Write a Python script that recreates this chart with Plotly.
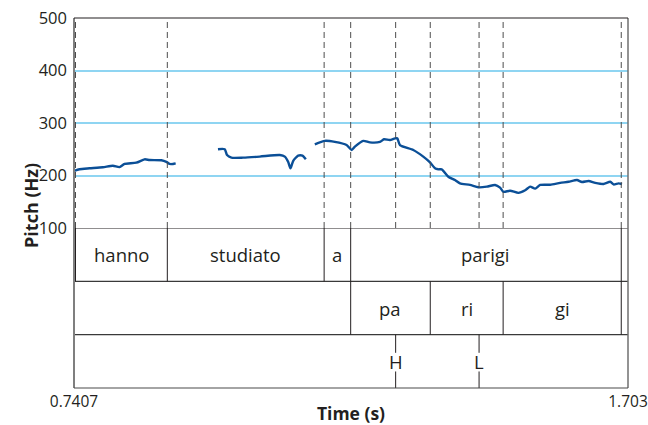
import plotly.graph_objects as go

# ---- pitch contour (time in s, pitch in Hz), three voiced stretches ----
seg1_t = [0.7407, 0.7503, 0.7677, 0.7908, 0.8082, 0.8198, 0.8285, 0.8489, 0.8633,
          0.8720, 0.8924, 0.9011, 0.9068, 0.9126, 0.9173]
seg1_f = [208.6, 212, 213.7, 215.6, 218.7, 216, 222, 224.4, 230.8,
          229.5, 229, 226, 222, 222, 223]

seg2_t = [0.9908, 1.0025, 1.0065, 1.0141, 1.0343, 1.0634, 1.0982, 1.1069, 1.1126,
          1.1167, 1.1213, 1.1300, 1.1376, 1.1434]
seg2_f = [250, 250, 239, 234, 234, 236, 239, 236, 226,
          213.6, 227.6, 237.8, 237.8, 231]

seg3_t = [1.1590, 1.1764, 1.1938, 1.2142, 1.2229, 1.2286, 1.2431, 1.2547, 1.2721,
          1.2791, 1.2895, 1.2982, 1.3022, 1.3069, 1.3300, 1.3474, 1.3591, 1.3678,
          1.3735, 1.3794, 1.3909, 1.4024, 1.4111, 1.4285, 1.4431, 1.4577, 1.4721,
          1.4808, 1.4866, 1.4983, 1.5127, 1.5244, 1.5330, 1.5417, 1.5504, 1.5678,
          1.5852, 1.5997, 1.6143, 1.6230, 1.6345, 1.6461, 1.6605, 1.6722, 1.6780,
          1.6867, 1.6926]
seg3_f = [259.4, 266, 264, 258, 248.6, 255, 266, 263, 264,
          269, 267.6, 270.8, 270.8, 258, 248.6, 236, 225, 213.7,
          211.8, 211.8, 197.7, 191.4, 185, 182, 177.5, 178.7, 182,
          176.8, 169, 171, 167, 172, 178.7, 175, 182, 182.5,
          186, 188, 191.4, 187.6, 189.5, 186, 183.8, 188, 183,
          185, 183.8]

# ---- annotation tiers ----
word_labels = ["hanno", "studiato", "a", "parigi"]
word_bounds = [0.7433, 0.9028, 1.1752, 1.2213, 1.6913]
syll_labels = ["pa", "ri", "gi"]
syll_bounds = [1.2213, 1.3595, 1.4861, 1.6913]
tone_labels = ["H", "L"]
tone_times = [1.2994, 1.4443]

# ---- axes ----
x_range = [0.7407, 1.703]
x_tick_vals = [0.7407, 1.703]
x_tick_labels = ["0.7407", "1.703"]
y_range = [100, 500]
y_tick_vals = [100, 200, 300, 400, 500]

FONT = "Open Sans"
TXT = "#231f20"
BLUE = "#0b4f97"
GRID = "#8fd5f2"
TIER_SIZE = 18.5

x_all = seg1_t + [None] + seg2_t + [None] + seg3_t
f_all = seg1_f + [None] + seg2_f + [None] + seg3_f

fig = go.Figure()
fig.add_trace(go.Scatter(x=x_all, y=f_all, mode="lines", connectgaps=False,
                         line=dict(color=BLUE, width=2.4, shape="spline", smoothing=0.6),
                         xaxis="x", yaxis="y", hoverinfo="skip", showlegend=False))
# invisible trace to establish the tier axis
fig.add_trace(go.Scatter(x=[x_range[0]], y=[0], mode="markers", marker=dict(opacity=0),
                         xaxis="x", yaxis="y2", showlegend=False, hoverinfo="skip"))

shapes = []
annotations = []

# dashed boundaries in pitch panel
all_bounds = sorted(set(word_bounds + syll_bounds + tone_times))
for b in all_bounds:
    shapes.append(dict(type="line", xref="x", yref="y", x0=b, x1=b, y0=y_range[0], y1=y_range[1],
                       line=dict(color="#4d4d4d", width=1, dash="6px,4px"), layer="above"))

# tier horizontals
for yv, col in [(3, "#231f20"), (2, "#3a3a3a"), (1, "#3a3a3a")]:
    shapes.append(dict(type="line", xref="paper", yref="y2", x0=0, x1=1, y0=yv, y1=yv,
                       line=dict(color=col, width=1.2), layer="above"))

# word tier
for b in word_bounds:
    shapes.append(dict(type="line", xref="x", yref="y2", x0=b, x1=b, y0=2, y1=3,
                       line=dict(color="#231f20", width=1), layer="above"))
for i, lab in enumerate(word_labels):
    annotations.append(dict(x=(word_bounds[i] + word_bounds[i + 1]) / 2, y=2.5, xref="x", yref="y2",
                            text=lab, showarrow=False, font=dict(family=FONT, size=TIER_SIZE, color=TXT)))
# syllable tier
for b in syll_bounds:
    shapes.append(dict(type="line", xref="x", yref="y2", x0=b, x1=b, y0=1, y1=2,
                       line=dict(color="#231f20", width=1), layer="above"))
for i, lab in enumerate(syll_labels):
    annotations.append(dict(x=(syll_bounds[i] + syll_bounds[i + 1]) / 2, y=1.5, xref="x", yref="y2",
                            text=lab, showarrow=False, font=dict(family=FONT, size=TIER_SIZE, color=TXT)))
# tone tier
for t, lab in zip(tone_times, tone_labels):
    shapes.append(dict(type="line", xref="x", yref="y2", x0=t, x1=t, y0=0.66, y1=1,
                       line=dict(color="#231f20", width=1), layer="above"))
    shapes.append(dict(type="line", xref="x", yref="y2", x0=t, x1=t, y0=0, y1=0.31,
                       line=dict(color="#231f20", width=1), layer="above"))
    annotations.append(dict(x=t, y=0.5, xref="x", yref="y2", text=lab, showarrow=False,
                            font=dict(family=FONT, size=TIER_SIZE, color=TXT)))

# frame
shapes += [
    dict(type="line", xref="paper", yref="paper", x0=0, x1=0, y0=0, y1=1,
         line=dict(color="#7f7f7f", width=2), layer="above"),
    dict(type="line", xref="paper", yref="paper", x0=1, x1=1, y0=0, y1=1,
         line=dict(color="#6f6f6f", width=1.5), layer="above"),
    dict(type="line", xref="paper", yref="paper", x0=0, x1=1, y0=1, y1=1,
         line=dict(color="#231f20", width=1.2), layer="above"),
    dict(type="line", xref="paper", yref="paper", x0=0, x1=1, y0=0, y1=0,
         line=dict(color="#4a4a4a", width=1.2), layer="above"),
]

annotations.append(dict(x=-0.103, y=0.4946, xref="paper", yref="paper", text="<b>Pitch (Hz)</b>",
                        textangle=-90, showarrow=False, font=dict(family=FONT, size=18, color=TXT)))

split = 1 - 210 / 370
fig.update_layout(
    width=648, height=425,
    margin=dict(l=74, r=20, t=18, b=37),
    plot_bgcolor="white", paper_bgcolor="white",
    xaxis=dict(range=x_range, anchor="y2", tickvals=x_tick_vals, ticktext=x_tick_labels,
               showgrid=False, zeroline=False, showline=False, ticks="", automargin=False,
               ticklabelstandoff=2,
               tickfont=dict(family=FONT, size=15.5, color=TXT),
               title=dict(text="<b>Time (s)</b>", font=dict(family=FONT, size=17.5, color=TXT), standoff=0)),
    yaxis=dict(domain=[split, 1], range=y_range, tickvals=y_tick_vals, showgrid=True,
               gridcolor=GRID, gridwidth=1.6, zeroline=False, showline=False, ticks="",
               automargin=False, ticklabelstandoff=6,
               tickfont=dict(family=FONT, size=16.5, color=TXT)),
    yaxis2=dict(domain=[0, split], range=[0, 3], visible=False, fixedrange=True),
    shapes=shapes, annotations=annotations,
)

fig.write_html("out.html", config={"displayModeBar": False},
               post_script="document.body.style.margin='0';document.body.style.overflow='hidden';")
